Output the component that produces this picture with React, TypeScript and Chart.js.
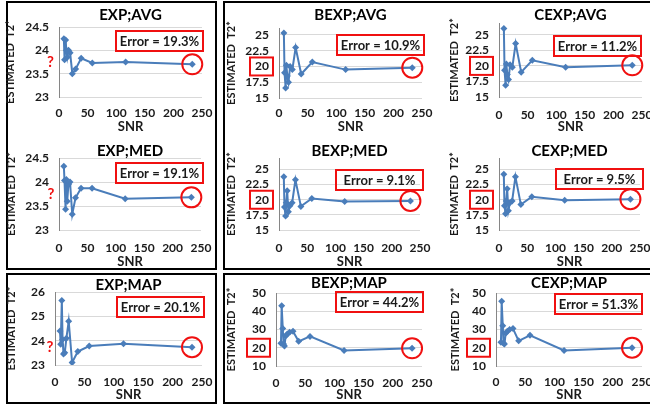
import React, { useEffect, useRef } from "react";
import { Chart, registerables } from "chart.js";
Chart.register(...registerables);

// ---------- data ----------
const snr = [8.5, 9.7, 11.6, 12.9, 14.5, 16.6, 19.4, 23.3, 29.1, 38.8, 58.2, 116.5, 233];
const xTicks = [0, 50, 100, 150, 200, 250];

const expAvg = [24.25, 23.8, 24.22, 24.0, 23.85, 24.0, 23.95, 23.5, 23.6, 23.83, 23.73, 23.75, 23.7];
const expMed = [24.33, 24.03, 23.43, 24.05, 23.6, 23.95, 24.0, 23.33, 23.67, 23.87, 23.87, 23.65, 23.68];
const expMap = [24.4, 23.85, 25.65, 24.05, 23.45, 23.5, 24.1, 24.8, 23.1, 23.55, 23.78, 23.87, 23.73];
const bexpAvg = [25.3, 19.0, 16.6, 20.2, 18.5, 17.5, 20.0, 19.5, 23.0, 18.8, 20.7, 19.5, 19.8];
const cexpAvg = [26.0, 19.3, 16.9, 20.3, 18.6, 17.8, 20.2, 19.8, 23.6, 19.0, 20.9, 19.8, 20.1];
const bexpMed = [23.8, 18.8, 17.3, 19.5, 21.5, 18.0, 19.0, 19.5, 23.3, 18.9, 20.2, 19.7, 19.8];
const cexpMed = [24.2, 19.0, 17.7, 19.8, 21.8, 18.2, 19.5, 19.8, 23.8, 19.2, 20.5, 19.9, 20.1];
const bexpMap = [22.5, 43.0, 30.5, 22.0, 21.0, 26.5, 27.5, 28.5, 29.0, 23.5, 26.2, 18.5, 19.7];
const cexpMap = [23.0, 45.5, 32.0, 22.5, 22.0, 28.0, 29.0, 30.0, 30.5, 23.8, 26.8, 18.5, 20.0];

const ticksExp = [23, 23.5, 24, 24.5];
const ticksExpMap = [23, 24, 25, 26];
const ticksBC = [15, 17.5, 20, 22.5, 25];
const ticksMap = [10, 20, 30, 40, 50];

const trueValue = 23.75;
const refValue = 20;

// ---------- styles ----------
const FONT = "Lato, 'Open Sans', sans-serif";
const BLUE = "#4A7DBA";
const RED = "#F01010";
const TXT = "#1a1a1a";

type Panel = {
  title: string; values: number[]; yMin: number; yMax: number; yTicks: number[];
  error: string; mark: "q" | "box";
  box: { l: number; r: number; t: number; b: number };
  titleY: number; yTitleX: number; tickY: number; snrY: number;
  errDx: number; errDy: number; qDx?: number;
};

const panels: Panel[] = [
  { title: "EXP;AVG", values: expAvg, yMin: 23, yMax: 24.5, yTicks: ticksExp, error: "Error = 19.3%", mark: "q",
    box: { l: 59, r: 202, t: 27, b: 97 }, titleY: 15, yTitleX: 10.5, tickY: 113, snrY: 127, errDx: 1, errDy: 4, qDx: -8.5 },
  { title: "EXP;MED", values: expMed, yMin: 23, yMax: 24.5, yTicks: ticksExp, error: "Error = 19.1%", mark: "q",
    box: { l: 59, r: 201, t: 158, b: 230 }, titleY: 151, yTitleX: 11.5, tickY: 248, snrY: 262, errDx: 2, errDy: 5, qDx: -8 },
  { title: "EXP;MAP", values: expMap, yMin: 23, yMax: 26, yTicks: ticksExpMap, error: "Error = 20.1%", mark: "q",
    box: { l: 55, r: 202, t: 292, b: 365 }, titleY: 285, yTitleX: 11, tickY: 382, snrY: 395, errDx: 2, errDy: 5, qDx: -5 },
  { title: "BEXP;AVG", values: bexpAvg, yMin: 15, yMax: 26.1, yTicks: ticksBC, error: "Error = 10.9%", mark: "box",
    box: { l: 279, r: 422, t: 28, b: 98 }, titleY: 15, yTitleX: 231, tickY: 113, snrY: 127, errDx: 2, errDy: 7 },
  { title: "CEXP;AVG", values: cexpAvg, yMin: 15, yMax: 26.9, yTicks: ticksBC, error: "Error = 11.2%", mark: "box",
    box: { l: 499, r: 642, t: 23, b: 97 }, titleY: 15, yTitleX: 454, tickY: 115, snrY: 127, errDx: -1, errDy: 13 },
  { title: "BEXP;MED", values: bexpMed, yMin: 15, yMax: 26.9, yTicks: ticksBC, error: "Error = 9.1%", mark: "box",
    box: { l: 279, r: 420, t: 158, b: 230 }, titleY: 151, yTitleX: 231, tickY: 248, snrY: 262, errDx: 3, errDy: 12 },
  { title: "CEXP;MED", values: cexpMed, yMin: 15, yMax: 26.9, yTicks: ticksBC, error: "Error = 9.5%", mark: "box",
    box: { l: 499, r: 640, t: 158, b: 230 }, titleY: 151, yTitleX: 454, tickY: 248, snrY: 262, errDx: 3, errDy: 11 },
  { title: "BEXP;MAP", values: bexpMap, yMin: 10, yMax: 50, yTicks: ticksMap, error: "Error = 44.2%", mark: "box",
    box: { l: 276, r: 422, t: 293, b: 366 }, titleY: 283, yTitleX: 231, tickY: 383, snrY: 395, errDx: 1, errDy: -1 },
  { title: "CEXP;MAP", values: cexpMap, yMin: 10, yMax: 50, yTicks: ticksMap, error: "Error = 51.3%", mark: "box",
    box: { l: 496, r: 642, t: 293, b: 366 }, titleY: 283, yTitleX: 455, tickY: 382, snrY: 395, errDx: 0, errDy: 1 },
];

const Y_AXIS_W = 58;
const RIGHT_PAD = 14;

function annotPlugin(p: Panel) {
  return {
    id: "annot",
    afterDraw(chart: any) {
      const { ctx, chartArea: a } = chart;
      const y = chart.scales.y;
      ctx.save();
      ctx.strokeStyle = RED;
      ctx.lineWidth = 2;
      // error box
      const bw = 87, bh = 20;
      const bx = a.right + p.errDx - bw;
      const by = a.top + p.errDy;
      ctx.strokeRect(bx, by, bw, bh);
      ctx.fillStyle = TXT;
      ctx.font = `bold 13px ${FONT}`;
      ctx.textAlign = "center";
      ctx.textBaseline = "middle";
      ctx.fillText(p.error, bx + bw / 2, by + bh / 2 + 0.5);
      // circle around last point
      const meta = chart.getDatasetMeta(0);
      const last = meta.data[meta.data.length - 1];
      ctx.beginPath();
      ctx.arc(last.x, last.y, 10, 0, Math.PI * 2);
      ctx.stroke();
      if (p.mark === "q") {
        ctx.fillStyle = RED;
        ctx.font = `bold 15px ${FONT}`;
        ctx.fillText("?", a.left + (p.qDx || -8), y.getPixelForValue(trueValue));
      } else {
        const cy = y.getPixelForValue(refValue);
        ctx.strokeRect(a.left - 29, cy - 9, 23, 18);
      }
      ctx.restore();
    },
  };
}

function PanelChart({ p }: { p: Panel }) {
  const ref = useRef<HTMLCanvasElement>(null);
  const cl = p.box.l - Y_AXIS_W;
  const ct = p.titleY - 8;
  const cr = p.box.r + RIGHT_PAD;
  const cb = p.snrY + 10;
  const w = cr - cl;
  const h = cb - ct;
  useEffect(() => {
    if (!ref.current) return;
    const xH = cb - p.box.b;
    const chart = new Chart(ref.current, {
      type: "line",
      data: {
        datasets: [
          {
            data: snr.map((x, i) => ({ x, y: p.values[i] })),
            borderColor: BLUE,
            backgroundColor: BLUE,
            borderWidth: 2,
            pointStyle: "rectRot",
            pointRadius: 3.5,
            pointBorderWidth: 0,
            tension: 0,
          },
        ],
      },
      options: {
        responsive: false,
        animation: false,
        devicePixelRatio: 1,
        layout: { padding: { left: 0, right: RIGHT_PAD, top: 0, bottom: 0 }, autoPadding: false },
        plugins: {
          legend: { display: false },
          tooltip: { enabled: false },
          title: {
            display: true,
            text: p.title,
            fullSize: false,
            color: "#000",
            font: { family: FONT, size: 15, weight: "bold", lineHeight: 0.8 },
            padding: { top: 2, bottom: p.box.t - p.titleY - 6 },
          },
        },
        scales: {
          x: {
            type: "linear",
            min: 0,
            max: 250,
            afterBuildTicks: (s: any) => { s.ticks = xTicks.map((v) => ({ value: v })); },
            afterFit: (s: any) => { s.height = xH; s.paddingLeft = 0; s.paddingRight = 0; },
            grid: { display: false, drawTicks: false },
            border: { display: false },
            ticks: {
              color: TXT, padding: p.tickY - p.box.b - 7.2, maxRotation: 0, autoSkip: false,
              font: { family: FONT, size: 12, weight: "bold" },
              callback: (v: any) => String(v),
            },
            title: {
              display: true, text: "SNR", color: TXT,
              font: { family: FONT, size: 13, weight: "bold" },
              padding: { top: 0, bottom: 2 },
            },
          },
          y: {
            type: "linear",
            min: p.yMin,
            max: p.yMax,
            afterBuildTicks: (s: any) => { s.ticks = p.yTicks.map((v) => ({ value: v })); },
            afterFit: (s: any) => { s.width = Y_AXIS_W; s.paddingTop = 0; s.paddingBottom = 0; },
            grid: { color: "#D9D9D9", drawTicks: false, lineWidth: 1 },
            border: { color: "#868686", width: 1 },
            ticks: {
              color: TXT, padding: 10,
              font: { family: FONT, size: 12, weight: "bold" },
              callback: (v: any) => String(v),
            },
            title: {
              display: true, text: "ESTIMATED  T2*", color: TXT,
              font: { family: FONT, size: 11, weight: "bold" },
              padding: { top: p.yTitleX - cl - 6.6, bottom: 0 },
            },
          },
        },
      },
      plugins: [annotPlugin(p)],
    } as any);
    return () => chart.destroy();
  }, []);
  return (
    <canvas
      ref={ref}
      width={w}
      height={h}
      style={{ position: "absolute", left: cl, top: ct, width: w, height: h }}
    />
  );
}

const frameStyle = (left: number, top: number, width: number, height: number): React.CSSProperties => ({
  position: "absolute", left, top, width, height, border: "2px solid #000", boxSizing: "border-box",
});

export default function App() {
  return (
    <div style={{ position: "fixed", left: 0, top: 0, width: 650, height: 407, background: "#fff", overflow: "hidden" }}>
      <div style={frameStyle(6, 1, 211, 269)} />
      <div style={frameStyle(6, 273, 211, 131)} />
      <div style={frameStyle(223, 1, 430, 269)} />
      <div style={frameStyle(223, 273, 430, 131)} />
      {panels.map((p) => (
        <PanelChart key={p.title} p={p} />
      ))}
    </div>
  );
}
